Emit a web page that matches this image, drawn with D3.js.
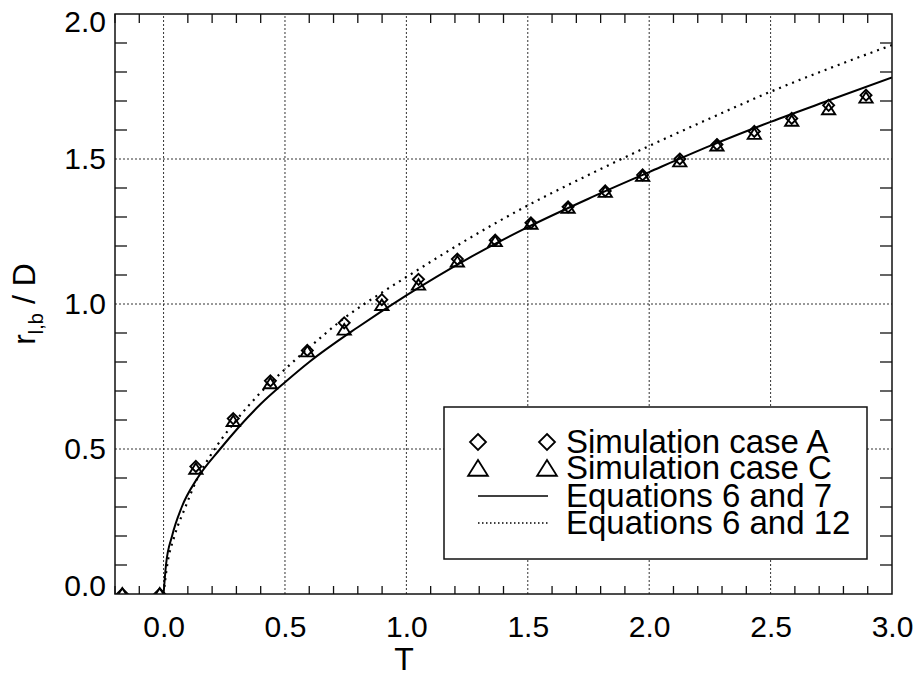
<!DOCTYPE html>
<html>
<head>
<meta charset="utf-8">
<script src="https://cdn.jsdelivr.net/npm/d3@7"></script>
<style>
  body { margin: 0; background: #fff; }
  svg { display: block; font-family: "Liberation Sans", Arial, Helvetica, sans-serif; }
</style>
</head>
<body>
<div id="chart"></div>
<script>
// simulation sample times (T) and r_lb/D for the two cases
const tValues = [-0.17, -0.016, 0.133, 0.287, 0.44, 0.592, 0.744, 0.899, 1.05, 1.21, 1.366,
                 1.513, 1.666, 1.819, 1.973, 2.126, 2.279, 2.433, 2.587, 2.739, 2.893];
const caseA = [0, 0, 0.44, 0.605, 0.735, 0.84, 0.935, 1.015, 1.085, 1.155, 1.22,
               1.28, 1.335, 1.39, 1.445, 1.5, 1.55, 1.595, 1.64, 1.685, 1.72];
const caseC = [0, 0, 0.43, 0.595, 0.725, 0.835, 0.91, 0.995, 1.065, 1.145, 1.215,
               1.275, 1.33, 1.385, 1.44, 1.49, 1.545, 1.585, 1.63, 1.67, 1.71];

// Equations 6 and 7 (solid)
const eq7T = [0, 0.01, 0.035, 0.075, 0.14, 0.233, 0.4, 0.5, 0.6, 0.8, 1.0, 1.25, 1.5, 1.75, 2.0, 2.25, 2.5, 2.75, 3.0];
const eq7R = [0, 0.1, 0.2, 0.3, 0.4, 0.5, 0.655, 0.73, 0.8, 0.92, 1.03, 1.155, 1.265, 1.363, 1.455, 1.545, 1.628, 1.705, 1.781];

// Equations 6 and 12 (dotted)
const eq12T = [0, 0.015, 0.045, 0.09, 0.14, 0.195, 0.3, 0.4, 0.5, 0.6, 0.75, 0.9, 1.0, 1.25, 1.5, 1.75, 2.0, 2.25, 2.5, 2.75, 3.0];
const eq12R = [0, 0.1, 0.2, 0.3, 0.4, 0.48, 0.6, 0.695, 0.775, 0.85, 0.955, 1.04, 1.093, 1.222, 1.34, 1.445, 1.545, 1.64, 1.732, 1.815, 1.893];

const xMajor = [0.0, 0.5, 1.0, 1.5, 2.0, 2.5, 3.0];
const yMajor = [0.0, 0.5, 1.0, 1.5, 2.0];
const legendLabels = ['Simulation case A', 'Simulation case C', 'Equations 6 and 7', 'Equations 6 and 12'];

const width = 919, height = 677;
const margin = {top: 14, right: 27, bottom: 83, left: 115};

const x = d3.scaleLinear().domain([-0.2, 3.0]).range([margin.left, width - margin.right]);
const y = d3.scaleLinear().domain([0, 2.0]).range([height - margin.bottom, margin.top]);

const svg = d3.select('#chart').append('svg')
    .attr('width', width)
    .attr('height', height);

svg.append('rect').attr('width', width).attr('height', height).attr('fill', '#fff');

svg.append('clipPath').attr('id', 'plot-clip')
  .append('rect')
    .attr('x', x.range()[0]).attr('y', y.range()[1])
    .attr('width', x.range()[1] - x.range()[0])
    .attr('height', y.range()[0] - y.range()[1]);

// grid lines
const isMajor = v => Math.abs(v * 2 - Math.round(v * 2)) < 1e-6;
svg.append('g')
  .selectAll('line')
  .data(xMajor.filter(v => v > x.domain()[0] && v < x.domain()[1]))
  .join('line')
    .attr('x1', d => x(d)).attr('x2', d => x(d))
    .attr('y1', y.range()[0]).attr('y2', y.range()[1])
    .attr('stroke', '#333').attr('stroke-width', 1).attr('stroke-dasharray', '2,2');
svg.append('g')
  .selectAll('line')
  .data(yMajor.filter(v => v > y.domain()[0] && v < y.domain()[1]))
  .join('line')
    .attr('y1', d => y(d)).attr('y2', d => y(d))
    .attr('x1', x.range()[0]).attr('x2', x.range()[1])
    .attr('stroke', '#333').attr('stroke-width', 1).attr('stroke-dasharray', '2,2');

// minor ticks (inward, all four sides)
const xMinor = x.ticks(32).filter(v => !isMajor(v));
const yMinor = y.ticks(20).filter(v => !isMajor(v));
const ticks = svg.append('g').attr('stroke', '#111').attr('stroke-width', 1.3);
ticks.selectAll('.xb').data(xMinor).join('line').attr('class', 'xb')
    .attr('x1', d => x(d)).attr('x2', d => x(d))
    .attr('y1', y.range()[0]).attr('y2', y.range()[0] - 8);
ticks.selectAll('.xt').data(xMinor).join('line').attr('class', 'xt')
    .attr('x1', d => x(d)).attr('x2', d => x(d))
    .attr('y1', y.range()[1]).attr('y2', y.range()[1] + 9);
ticks.selectAll('.yl').data(yMinor).join('line').attr('class', 'yl')
    .attr('y1', d => y(d)).attr('y2', d => y(d))
    .attr('x1', x.range()[0]).attr('x2', x.range()[0] + 12);
ticks.selectAll('.yr').data(yMinor).join('line').attr('class', 'yr')
    .attr('y1', d => y(d)).attr('y2', d => y(d))
    .attr('x1', x.range()[1]).attr('x2', x.range()[1] - 12);

// curves
const plot = svg.append('g').attr('clip-path', 'url(#plot-clip)');
const line = d3.line()
    .x(d => x(d[0]))
    .y(d => y(d[1]))
    .curve(d3.curveMonotoneX);

plot.append('path')
    .datum(d3.zip(eq7T, eq7R))
    .attr('fill', 'none')
    .attr('stroke', '#000')
    .attr('stroke-width', 2)
    .attr('d', line);

plot.append('path')
    .datum(d3.zip(eq12T, eq12R))
    .attr('fill', 'none')
    .attr('stroke', '#000')
    .attr('stroke-width', 2.2)
    .attr('stroke-dasharray', '2,5')
    .attr('d', line);

// markers
const diamond = s => `M0,${-s}L${s},0L0,${s}L${-s},0Z`;
const triangle = s => `M0,${-s}L${s * 1.1},${s * 0.75}L${-s * 1.1},${s * 0.75}Z`;

plot.append('g')
  .selectAll('path')
  .data(d3.zip(tValues, caseA))
  .join('path')
    .attr('transform', d => `translate(${x(d[0])},${y(d[1])})`)
    .attr('d', diamond(5.5))
    .attr('fill', 'none').attr('stroke', '#000').attr('stroke-width', 1.9);

plot.append('g')
  .selectAll('path')
  .data(d3.zip(tValues, caseC))
  .join('path')
    .attr('transform', d => `translate(${x(d[0])},${y(d[1])})`)
    .attr('d', triangle(6))
    .attr('fill', 'none').attr('stroke', '#000').attr('stroke-width', 1.9);

// frame
svg.append('rect')
    .attr('x', x.range()[0]).attr('y', y.range()[1])
    .attr('width', x.range()[1] - x.range()[0])
    .attr('height', y.range()[0] - y.range()[1])
    .attr('fill', 'none').attr('stroke', '#111').attr('stroke-width', 1.5);

// axis labels
const xAxis = svg.append('g')
    .attr('transform', `translate(0,${y.range()[0]})`)
    .call(d3.axisBottom(x).tickValues(xMajor).tickFormat(d3.format('.1f')).tickSize(0).tickPadding(22));
const yAxis = svg.append('g')
    .attr('transform', `translate(${x.range()[0]},0)`)
    .call(d3.axisLeft(y).tickValues(yMajor).tickFormat(d3.format('.1f')).tickSize(0).tickPadding(9));
[xAxis, yAxis].forEach(g => {
  g.select('.domain').remove();
  g.selectAll('text').attr('font-size', 30).attr('fill', '#000')
      .attr('font-family', '"Liberation Sans", Arial, Helvetica, sans-serif');
});
// end labels nudged inside the frame, as in the original
yAxis.selectAll('.tick').filter(d => d === 0).select('text').attr('y', -8);
yAxis.selectAll('.tick').filter(d => d === 2).select('text').attr('y', 8);

svg.append('text')
    .attr('x', 404).attr('y', 670)
    .attr('text-anchor', 'middle')
    .attr('font-size', 32)
    .text('T');

const yTitle = svg.append('text')
    .attr('transform', 'translate(35,304) rotate(-90)')
    .attr('text-anchor', 'middle')
    .attr('font-size', 32);
yTitle.append('tspan').text('r');
yTitle.append('tspan').attr('font-size', 20).attr('dy', 8).text('l,b');
yTitle.append('tspan').attr('dy', -8).text(' / D');

// legend
const lg = svg.append('g');
lg.append('rect')
    .attr('x', 444).attr('y', 407).attr('width', 423).attr('height', 152)
    .attr('fill', '#fff').attr('stroke', '#111').attr('stroke-width', 1.5);

const rowY = [442, 468, 496, 523];
lg.selectAll('text')
  .data(legendLabels)
  .join('text')
    .attr('x', 566)
    .attr('y', (d, i) => rowY[i] + 11)
    .attr('font-size', 33)
    .text(d => d);

[478, 547].forEach(cx => {
  lg.append('path')
      .attr('transform', `translate(${cx},${rowY[0]})`)
      .attr('d', diamond(8))
      .attr('fill', 'none').attr('stroke', '#000').attr('stroke-width', 1.8);
  lg.append('path')
      .attr('transform', `translate(${cx},${rowY[1] + 1})`)
      .attr('d', triangle(9))
      .attr('fill', 'none').attr('stroke', '#000').attr('stroke-width', 1.8);
});
lg.append('line')
    .attr('x1', 478).attr('x2', 548).attr('y1', rowY[2]).attr('y2', rowY[2])
    .attr('stroke', '#000').attr('stroke-width', 1.5);
lg.append('line')
    .attr('x1', 478).attr('x2', 548).attr('y1', rowY[3]).attr('y2', rowY[3])
    .attr('stroke', '#000').attr('stroke-width', 1.5).attr('stroke-dasharray', '1.5,2.5');
</script>
</body>
</html>
